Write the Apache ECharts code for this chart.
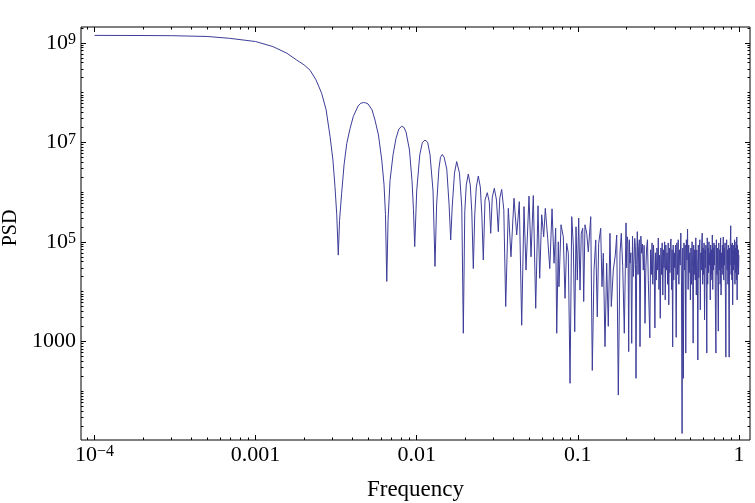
<!DOCTYPE html>
<html>
<head>
<meta charset="utf-8">
<script src="https://cdn.jsdelivr.net/npm/echarts@6/dist/echarts.min.js"></script>
<style>
html,body{margin:0;padding:0;background:#fff;}
#chart{width:755px;height:503px;}
</style>
</head>
<body>
<div id="chart"></div>
<script>
// ---- data: [frequency, PSD] ----
const mainLobe = [
  [1.00e-4,1.41e9],[2.00e-4,1.40e9],[3.00e-4,1.39e9],[5.00e-4,1.34e9],[6.90e-4,1.23e9],
  [1.00e-3,1.06e9],[1.28e-3,8.4e8],[1.56e-3,6.2e8],[1.80e-3,4.5e8],[2.00e-3,3.6e8],
  [2.18e-3,2.8e8],[2.37e-3,1.8e8],[2.57e-3,9.7e7],[2.74e-3,4.5e7],[2.90e-3,1.3e7],
  [3.02e-3,4.4e6],[3.11e-3,1.28e6],[3.19e-3,3.5e5],[3.26e-3,5.4e4]
];
const sideLobes = [
  [3.32e-3,2.7e5],[3.42e-3,9.4e5],[3.54e-3,3.5e6],[3.68e-3,9.5e6],[3.86e-3,1.9e7],
  [4.04e-3,3.3e7],[4.33e-3,5.4e7],[4.50e-3,6.1e7],[4.67e-3,6.3e7],[4.83e-3,6.2e7],
  [4.99e-3,5.9e7],[5.28e-3,4.5e7],[5.51e-3,2.8e7],[5.79e-3,1.4e7],[6.07e-3,4.4e6],
  [6.27e-3,1.4e6],[6.40e-3,3.5e5],[6.52e-3,1.6e4],
  [6.64e-3,2.7e5],[6.83e-3,1.7e6],[7.13e-3,5.6e6],[7.44e-3,1.2e7],[7.75e-3,1.85e7],
  [8.07e-3,2.1e7],[8.33e-3,2.0e7],[8.59e-3,1.6e7],[9.02e-3,7.0e6],[9.35e-3,1.7e6],
  [9.55e-3,4.4e5],[9.72e-3,8.0e4],
  [1.000e-2,1.05e6],[1.045e-2,5.6e6],[1.085e-2,1.0e7],[1.126e-2,1.11e7],[1.17e-2,1.0e7],
  [1.210e-2,5.6e6],[1.263e-2,1.05e6],[1.299e-2,3.2e4],
  [1.329e-2,5.5e5],[1.373e-2,2.9e6],[1.405e-2,5.0e6],[1.442e-2,5.7e6],[1.48e-2,5.0e6],
  [1.537e-2,2.9e6],[1.589e-2,5.5e5],[1.626e-2,1.09e5],
  [1.661e-2,5.0e5],[1.716e-2,2.4e6],[1.771e-2,4.1e6],[1.843e-2,2.4e6],[1.905e-2,5.0e5],[1.947e-2,1.45e3],
  [1.988e-2,4.0e5],[2.031e-2,1.39e6],[2.091e-2,2.3e6],[2.150e-2,1.39e6],[2.198e-2,4.0e5],[2.246e-2,2.9e4],
  [2.294e-2,3.6e5],[2.344e-2,1.26e6],[2.412e-2,2.1e6],[2.482e-2,1.26e6],[2.536e-2,3.6e5],[2.591e-2,4.3e4],
  [2.655e-2,6.9e5],[2.742e-2,9.7e5],[2.822e-2,6.3e5],[2.880e-2,1.48e5],
  [2.946e-2,7.9e5],[3.032e-2,1.19e6],[3.128e-2,6.9e5],[3.210e-2,1.6e5],
  [3.280e-2,7.6e5],[3.370e-2,1.13e6],[3.473e-2,4.4e5],[3.569e-2,5.0e3],
  [3.704e-2,4.7e5],[3.848e-2,5.0e4],[4.018e-2,7.5e5],[4.176e-2,1.37e5],
  [4.334e-2,6.4e5],[4.485e-2,2.1e3],[4.634e-2,5.1e5],[4.770e-2,2.7e4],
  [4.979e-2,8.3e5],[5.123e-2,5.0e4],[5.294e-2,8.5e5],[5.479e-2,4.6e3],
  [5.662e-2,5.3e5],[5.800e-2,1.85e4]
];
const noiseLow = [
  [0.0597,3.5e5],[0.06142,1.26e5],[0.06285,4.7e5],[0.06504,1.17e5],[0.0670,2.9e4],
  [0.0692,4.6e5],[0.0712,3.7e4],[0.0729,1.87e5],[0.0740,1.45e3],[0.0757,1.0e5],
  [0.0764,1.25e4],[0.0787,2.2e5],[0.0813,1.26e5],[0.0833,7.3e3],[0.0853,9.3e4],
  [0.0873,5.9e4],[0.0895,1.43e2],[0.0917,3.2e5],[0.0938,8.6e4],[0.0957,1.56e3],
  [0.0975,2.0e5],[0.0993,1.7e4],[0.1013,3.0e5],[0.1032,1.07e4],[0.1051,1.48e5],
  [0.1073,1.87e5],[0.1088,6.3e3],[0.1108,2.2e5],[0.1136,1.48e5],[0.1162,6.3e4],
  [0.1203,3.2e5],[0.1230,2.6e2],[0.1261,2.7e4],[0.1292,1.09e5],[0.1321,3.1e3],
  [0.1348,9.3e4],[0.1387,1.87e5],[0.1413,1.25e4],[0.1440,5.9e4],[0.1475,7.8e2],
  [0.1511,3.7e4],[0.1546,2.0e3],[0.1584,1.48e5],[0.1614,5.0e3],[0.1661,2.7e4],
  [0.1709,5.4e4],[0.1744,1.37e5],[0.1784,83],[0.1828,5.9e4],[0.1862,1.48e5],
  [0.1900,3.2e4],[0.1944,1.45e3],[0.1992,2.4e5],[0.2010,3.0e4],[0.2029,1.26e5],
  [0.2050,9.0e4],[0.2070,6.2e2],[0.2090,1.1e5],[0.2109,3.7e4],[0.2135,6.0e4],
  [0.2161,9.1e2],[0.2186,1.3e5],[0.2211,2.0e4],[0.2233,4.0e4],[0.2256,1.17e5],
  [0.2277,8.0e4],[0.2298,1.8e2],[0.2320,3.5e4],[0.2341,1.6e5],[0.2365,2.2e4],
  [0.2388,8.0e4],[0.2410,1.1e5],[0.2433,7.8e2],[0.2462,1.3e5],[0.2492,5.9e4],
  [0.2521,9.0e4],[0.2550,2.7e4],[0.2581,8.5e4],[0.2613,2.3e3],[0.2645,3.0e4],
  [0.2677,8.0e4],[0.2708,1.1e5],[0.2739,1.7e4]
];
const noiseMid = [
  [0.280,1.17e3],[0.283,6.9e4],[0.286,2.2e4],[0.289,9.5e4],[0.292,1.4e4],
  [0.295,8.6e4],[0.298,3.4e4],[0.301,1.85e3],[0.304,6.0e4],[0.307,1.7e4],
  [0.310,7.5e4],[0.313,2.7e4],[0.316,1.19e5],[0.319,1.1e4],[0.322,5.4e4],
  [0.325,2.9e3],[0.328,7.5e4],[0.331,2.2e4],[0.334,9.5e4],[0.337,8.5e3],
  [0.340,6.9e4],[0.343,3.0e4],[0.346,1.0e5],[0.349,6.8e3],[0.352,8.6e4],
  [0.355,2.7e4],[0.358,6.0e4],[0.361,1.4e4],[0.364,9.5e4],[0.367,5.4e3],
  [0.370,7.5e4],[0.373,2.4e4],[0.376,1.0e5],[0.379,1.14e5],[0.382,1.1e4],
  [0.385,6.9e4],[0.388,7.7e2],[0.391,8.6e4],[0.394,1.7e4],[0.397,6.0e4],
  [0.400,3.0e4]
];
const noiseHigh = [
  [0.404,8.6e4],[0.408,1.2e3],[0.412,9.5e4],[0.416,2.2e4],[0.420,1.1e5],
  [0.424,1.4e4],[0.428,6.9e4],[0.432,3.4e4],[0.436,1.5e5],[0.440,1.7e4],
  [0.444,14],[0.448,7.5e4],[0.452,1.8e2],[0.456,9.5e4],[0.460,2.7e4],
  [0.464,8.6e4],[0.468,5.8e2],[0.472,1.1e5],[0.476,4.3e4],[0.480,1.8e5],
  [0.484,1.1e4],[0.488,8.6e4],[0.492,2.4e4],[0.496,6.0e4],[0.500,6.8e3],
  [0.504,7.5e4],[0.508,1.4e4],[0.512,1.0e5],[0.516,3.0e4],[0.520,9.2e2],
  [0.524,8.6e4],[0.528,2.2e4],[0.532,6.9e4],[0.536,1.7e4],[0.540,1.2e5],
  [0.544,8.5e3],[0.548,6.9e4],[0.552,3.4e4],[0.556,4.2e2],[0.560,8.6e4],
  [0.564,1.9e4],[0.568,7.5e4],[0.572,1.1e5],[0.576,4.3e3],[0.580,6.0e4],
  [0.584,2.7e4],[0.588,9.5e4],[0.592,1.5e5],[0.596,1.4e4],[0.600,7.5e4],
  [0.604,2.2e4],[0.608,9.5e4],[0.612,2.7e3],[0.616,6.9e4],[0.620,3.0e4],
  [0.624,8.6e4],[0.628,1.1e4],[0.632,5.8e2],[0.636,1.2e5],[0.640,1.4e4],
  [0.644,7.5e4],[0.648,2.4e4],[0.652,1.0e5],[0.656,3.4e4],[0.660,6.0e4],
  [0.664,6.8e3],[0.668,8.6e4],[0.672,2.2e4],[0.676,6.9e4],[0.680,1.7e4],
  [0.684,1.37e5],[0.688,1.1e4],[0.692,7.5e4],[0.696,2.7e4],[0.700,9.5e4],
  [0.705,3.4e4],[0.710,8.6e4],[0.715,4.3e3],[0.720,5.8e2],[0.725,1.1e5],
  [0.730,2.2e4],[0.735,7.5e4],[0.740,1.7e4],[0.745,1.6e3],[0.750,9.5e4],
  [0.755,2.7e4],[0.760,6.9e4],[0.765,1.4e4],[0.770,1.2e5],[0.775,8.5e3],
  [0.780,6.0e4],[0.785,3.0e4],[0.790,8.6e4],[0.795,2.2e4],[0.800,1.25e5],
  [0.805,1.7e4],[0.810,7.5e4],[0.815,3.4e4],[0.820,9.5e4],[0.825,6.8e3],
  [0.830,4.8e2],[0.835,8.6e4],[0.840,1.1e5],[0.845,2.7e4],[0.850,6.9e4],
  [0.855,1.4e4],[0.860,8.6e4],[0.865,1.1e4],[0.870,4.8e2],[0.875,7.5e4],
  [0.880,3.4e4],[0.885,1.0e5],[0.890,2.1e5],[0.895,2.2e4],[0.900,8.6e4],
  [0.905,1.7e4],[0.910,9.5e4],[0.915,5.4e3],[0.920,6.9e4],[0.925,2.7e4],
  [0.930,8.6e4],[0.935,3.4e4],[0.940,1.1e5],[0.945,1.4e4],[0.950,7.5e4],
  [0.955,2.4e4],[0.960,1.0e5],[0.965,1.7e4],[0.970,1.25e5],[0.975,6.8e3],
  [0.980,8.6e4],[0.985,3.0e4],[0.990,6.9e4],[0.995,2.2e4],[1.000,5.4e4]
];

// ---- axis ticks / labels (decade exponents) ----
const xTickExps = [-4, -3, -2, -1, 0];
const xTickLabels = [['10','−4'], ['0.001',''], ['0.01',''], ['0.1',''], ['1','']];
const yTickExps = [3, 5, 7, 9];
const yTickLabels = [['1000',''], ['10','5'], ['10','7'], ['10','9']];

// visible axis range (log10 units)
const X_MIN = -4.0838, X_MAX = 0.0689;
const Y_MIN = 1.016, Y_MAX = 9.3176;

const spectrum = mainLobe.concat(sideLobes, noiseLow, noiseMid, noiseHigh);

function minorValues(lo, hi, majors) {
  const out = [];
  for (let n = Math.floor(lo) - 1; n <= Math.ceil(hi); n++) {
    for (let k = 1; k <= 9; k++) {
      const v = n + Math.log10(k);
      if (k === 1 && majors.indexOf(n) >= 0) continue;
      if (v > lo && v < hi) out.push(v);
    }
  }
  return out;
}
const xMinor = minorValues(X_MIN, X_MAX, xTickExps);
const yMinor = minorValues(Y_MIN, Y_MAX, yTickExps);

const FONT = 'Liberation Serif';
const rich = {
  b: {fontSize: 22, fontFamily: FONT, color: '#000', lineHeight: 22, verticalAlign: 'bottom'},
  s: {fontSize: 16, fontFamily: FONT, color: '#000', lineHeight: 18, verticalAlign: 'top', padding: [0, 0, 7.5, 0]}
};
function labelFmt(exps, labels) {
  return function (v) {
    let idx = 0, best = 1e9;
    exps.forEach(function (e, i) { if (Math.abs(e - v) < best) { best = Math.abs(e - v); idx = i; } });
    const l = labels[idx];
    return l[1] ? '{b|' + l[0] + '}{s|' + l[1] + '}' : '{b|' + l[0] + '}';
  };
}
function tickAxis(pos, lo, hi, vals, len, extra) {
  const a = {
    type: 'value', position: pos, min: lo, max: hi,
    axisLine: {show: false, onZero: false},
    splitLine: {show: false},
    axisTick: {show: true, inside: true, length: len, customValues: vals, lineStyle: {color: '#000', width: 1}},
    axisLabel: {show: false}
  };
  return Object.assign(a, extra || {});
}

const chart = echarts.init(document.getElementById('chart'), null, {renderer: 'canvas'});
chart.setOption({
  animation: false,
  backgroundColor: '#fff',
  grid: {left: 81, top: 27, right: 5, bottom: 63, show: true, borderColor: '#000', borderWidth: 1,
         backgroundColor: 'transparent', containLabel: false, outerBoundsMode: 'none'},
  xAxis: [
    {type: 'log', logBase: 10, min: Math.pow(10, X_MIN), max: Math.pow(10, X_MAX), show: false,
     axisLine: {onZero: false}},
    tickAxis('bottom', X_MIN, X_MAX, xTickExps, 5, {
      axisLabel: {show: true, customValues: xTickExps, margin: 4, formatter: labelFmt(xTickExps, xTickLabels), rich: rich},
      name: 'Frequency', nameLocation: 'middle', nameGap: 38,
      nameTextStyle: {fontFamily: FONT, fontSize: 23, color: '#000', lineHeight: 23}
    }),
    tickAxis('bottom', X_MIN, X_MAX, xMinor, 2.5),
    tickAxis('top', X_MIN, X_MAX, xTickExps, 5),
    tickAxis('top', X_MIN, X_MAX, xMinor, 2.5)
  ],
  yAxis: [
    {type: 'log', logBase: 10, min: Math.pow(10, Y_MIN), max: Math.pow(10, Y_MAX), show: false,
     axisLine: {onZero: false}},
    tickAxis('left', Y_MIN, Y_MAX, yTickExps, 5, {
      axisLabel: {show: true, customValues: yTickExps, margin: 5, formatter: labelFmt(yTickExps, yTickLabels), rich: rich},
      name: 'PSD', nameLocation: 'middle', nameGap: 60, nameRotate: 90,
      nameTextStyle: {fontFamily: FONT, fontSize: 20, color: '#000', lineHeight: 20, padding: [0, 0, 0, 11]}
    }),
    tickAxis('left', Y_MIN, Y_MAX, yMinor, 2.5),
    tickAxis('right', Y_MIN, Y_MAX, yTickExps, 5),
    tickAxis('right', Y_MIN, Y_MAX, yMinor, 2.5)
  ],
  series: [{
    type: 'line', xAxisIndex: 0, yAxisIndex: 0,
    data: spectrum, showSymbol: false, symbol: 'none', sampling: null,
    lineStyle: {color: '#3d3d99', width: 1}, clip: true
  }]
});
</script>
</body>
</html>
